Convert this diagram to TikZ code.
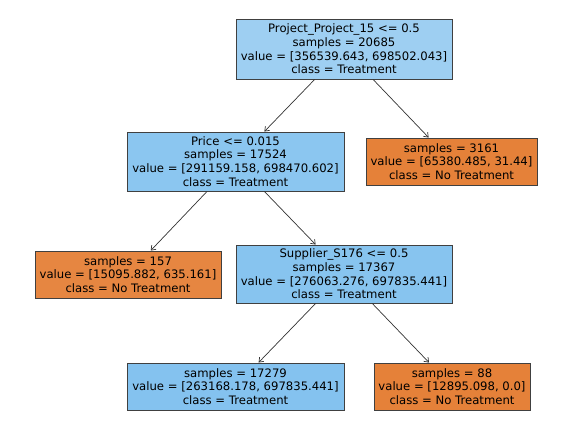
\documentclass[tikz,border=0pt]{standalone}
\usepackage{fontspec}
\setmainfont{DejaVu Sans}
\usetikzlibrary{arrows.meta}
\definecolor{rootblue}{RGB}{158,207,242}
\definecolor{priceblue}{RGB}{139,198,240}
\definecolor{suppblue}{RGB}{135,196,239}
\definecolor{leafblue}{RGB}{132,194,239}
\definecolor{orangefull}{RGB}{229,129,57}
\definecolor{orangelight}{RGB}{230,134,65}
\definecolor{framegray}{RGB}{64,64,64}
\tikzset{
  treenode/.style={draw=framegray, line width=0.9bp, align=center, inner sep=0pt,
    font=\fontsize{11.7}{13.8}\selectfont},
  split/.style={treenode, minimum height=59bp},
  leaf/.style={treenode, minimum height=47bp},
  edge/.style={draw=black!80, line width=0.7bp, -{Straight Barb[length=4bp,width=6bp]}}
}
\begin{document}
\begin{tikzpicture}[x=1bp,y=-1bp]
  \useasboundingbox (0,0) rectangle (566,438);
  % decision nodes
  \node[split, fill=rootblue, minimum width=216bp, minimum height=60bp] (root) at (344,49)
    {Project\_Project\_15 <= 0.5\\samples = 20685\\value = [356539.643, 698502.043]\\class = Treatment};
  \node[split, fill=priceblue, minimum width=217bp] (price) at (235.5,161.5)
    {Price <= 0.015\\samples = 17524\\value = [291159.158, 698470.602]\\class = Treatment};
  \node[split, fill=suppblue, minimum width=216bp, minimum height=58bp] (supp) at (344,274)
    {Supplier\_S176 <= 0.5\\samples = 17367\\value = [276063.276, 697835.441]\\class = Treatment};
  % leaves
  \node[leaf, fill=orangefull, minimum width=171bp] (l3161) at (451.5,161.5)
    {samples = 3161\\value = [65380.485, 31.44]\\class = No Treatment};
  \node[leaf, fill=orangelight, minimum width=186bp] (l157) at (128,274.5)
    {samples = 157\\value = [15095.882, 635.161]\\class = No Treatment};
  \node[leaf, fill=leafblue, minimum width=217bp] (l17279) at (235.5,386.5)
    {samples = 17279\\value = [263168.178, 697835.441]\\class = Treatment};
  \node[leaf, fill=orangefull, minimum width=156bp] (l88) at (452,386.5)
    {samples = 88\\value = [12895.098, 0.0]\\class = No Treatment};
  % connectors
  \draw[edge] (root) -- (price);
  \draw[edge] (root) -- (l3161);
  \draw[edge] (price) -- (l157);
  \draw[edge] (price) -- (supp);
  \draw[edge] (supp) -- (l17279);
  \draw[edge] (supp) -- (l88);
\end{tikzpicture}
\end{document}
